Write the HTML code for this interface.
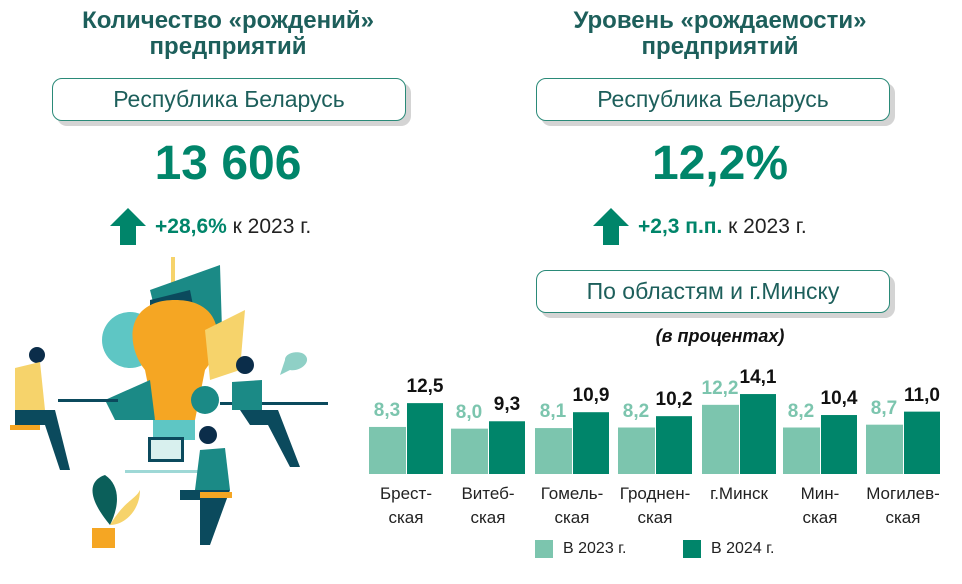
<!DOCTYPE html>
<html><head><meta charset="utf-8"><style>
body{margin:0;width:962px;height:584px;background:#fff;font-family:"Liberation Sans",sans-serif;position:relative;overflow:hidden}
.a{position:absolute;white-space:nowrap}
.t{color:#1d5f5b;font-weight:bold;font-size:24px;line-height:26px;text-align:center}
.box{position:absolute;border:1.5px solid #2a8a78;border-radius:10px;background:#fff;box-shadow:5px 5px 0 #d4d4d4;text-align:center;color:#1d5f5b;font-size:23px;line-height:40px}
.big{color:#00856a;font-weight:bold;font-size:48px;text-align:center}
.inc{font-size:21px;color:#222}
.inc b{color:#00856a}
.l{color:#7cc5ae;font-weight:bold;font-size:19px;text-align:center;width:40px}
.d{color:#111;font-weight:bold;font-size:19px;text-align:center;width:40px}
.cat{font-size:17px;color:#222;text-align:center;line-height:24px;width:84px}
</style></head><body>
<div class="a t" style="left:28px;top:8px;width:400px">Количество «рождений»<br>предприятий</div>
<div class="a t" style="left:520px;top:8px;width:400px">Уровень «рождаемости»<br>предприятий</div>
<div class="box" style="left:52px;top:78px;width:352px;height:41px">Республика Беларусь</div>
<div class="box" style="left:536px;top:78px;width:352px;height:41px">Республика Беларусь</div>
<div class="box" style="left:536px;top:270px;width:352px;height:41px">По областям и г.Минску</div>
<div class="a big" style="left:28px;top:136px;width:400px">13 606</div>
<div class="a big" style="left:520px;top:136px;width:400px">12,2%</div>
<svg class="a" style="left:0;top:0" width="962" height="584">
<polygon points="128,208 110,226 120,226 120,245 136,245 136,226 146,226" fill="#00856a"/>
<polygon points="611,208 593,226 603,226 603,245 619,245 619,226 629,226" fill="#00856a"/>
<line x1="173" y1="257" x2="173" y2="285" stroke="#f6d36b" stroke-width="4"/>
<path d="M150 290 L220 265 L222 330 L160 330Z" fill="#1b8a86"/>
<path d="M150 300 L190 290 L200 340 L150 330Z" fill="#0b4a5d"/>
<circle cx="130" cy="340" r="28" fill="#5ec6c4"/>
<path d="M175 300 C225 300 225 345 205 370 L195 420 L155 420 L145 370 C125 345 125 300 175 300Z" fill="#f5a623"/>
<rect x="153" y="420" width="42" height="20" fill="#5ec6c4"/>
<path d="M205 330 L245 310 L240 370 L210 380Z" fill="#f6d36b"/>
<circle cx="205" cy="400" r="14" fill="#1b8a86"/>
<path d="M105 400 L150 380 L155 420 L115 420Z" fill="#1b8a86"/>
<rect x="148" y="437" width="36" height="25" fill="#0b4a5d"/><rect x="151" y="440" width="30" height="19" fill="#d8f0ee"/>
<rect x="58" y="399" width="60" height="3" fill="#0b4a5d"/>
<rect x="220" y="402" width="108" height="3" fill="#0b4a5d"/>
<rect x="125" y="470" width="100" height="3" fill="#9ed8d6"/>
<circle cx="37" cy="355" r="8" fill="#0b2d4a"/>
<path d="M15 368 L40 362 L45 410 L15 410Z" fill="#f6d36b"/>
<path d="M15 410 L55 410 L70 470 L60 470 L45 425 L15 425Z" fill="#0b4a5d"/>
<rect x="10" y="425" width="30" height="5" fill="#f5a623"/>
<circle cx="245" cy="365" r="9" fill="#0b2d4a"/>
<path d="M232 382 L262 380 L262 410 L232 410Z" fill="#1b8a86"/>
<path d="M240 410 L278 410 L300 467 L290 467 L268 425 L250 425Z" fill="#0b4a5d"/>
<circle cx="208" cy="435" r="9" fill="#0b2d4a"/>
<path d="M200 450 L225 448 L230 490 L195 490Z" fill="#1b8a86"/>
<path d="M180 490 L230 490 L210 545 L200 545 L200 500 L180 500Z" fill="#0b4a5d"/>
<rect x="200" y="492" width="32" height="6" fill="#f5a623"/>
<path d="M110 525 C85 495 90 480 105 475 C120 485 120 505 110 525Z" fill="#0b5f5a"/>
<path d="M110 525 C125 500 135 500 140 490 C140 510 125 525 110 525Z" fill="#f6d36b"/>
<rect x="92" y="528" width="23" height="20" fill="#f5a623"/>
<path d="M285 360 C285 352 300 350 305 355 C312 362 300 372 290 370 L280 375Z" fill="#8fd0c6"/>
<g id="bars"></g>
<rect x="535" y="540" width="18" height="18" fill="#7cc5ae"/>
<rect x="683" y="540" width="18" height="18" fill="#00856a"/>
</svg>
<div class="a" style="left:520px;top:326px;width:400px;text-align:center;font-weight:bold;font-style:italic;font-size:18px;color:#111">(в процентах)</div>
<div class="a inc" style="left:155px;top:215px"><b>+28,6%</b> к 2023 г.</div>
<div class="a inc" style="left:638px;top:215px"><b>+2,3 п.п.</b> к 2023 г.</div>
<div class="a" style="left:563px;top:540px;font-size:16px;color:#222">В 2023 г.</div>
<div class="a" style="left:711px;top:540px;font-size:16px;color:#222">В 2024 г.</div>
<div id="c"></div>
<script>
var d=[["Брест-","ская",8.3,12.5,"8,3","12,5"],["Витеб-","ская",8.0,9.3,"8,0","9,3"],["Гомель-","ская",8.1,10.9,"8,1","10,9"],["Гроднен-","ская",8.2,10.2,"8,2","10,2"],["г.Минск","",12.2,14.1,"12,2","14,1"],["Мин-","ская",8.2,10.4,"8,2","10,4"],["Могилев-","ская",8.7,11.0,"8,7","11,0"]];
var xs=[369,451,535,618,702,783,866],h="",s="",k=5.67;
d.forEach(function(r,i){var x=xs[i],h1=r[2]*k,h2=r[3]*k;
s+='<rect x="'+x+'" y="'+(474-h1)+'" width="37" height="'+h1+'" fill="#7cc5ae"/><rect x="'+(x+38)+'" y="'+(474-h2)+'" width="36" height="'+h2+'" fill="#00856a"/>';
h+='<div class="a l" style="left:'+(x-2)+'px;top:'+(474-h1-27)+'px">'+r[4]+'</div><div class="a d" style="left:'+(x+36)+'px;top:'+(474-h2-27)+'px">'+r[5]+'</div>';
h+='<div class="a cat" style="left:'+(x-5)+'px;top:482px">'+r[0]+'<br>'+r[1]+'</div>';});
document.getElementById("bars").innerHTML=s;document.getElementById("c").innerHTML=h;
</script>
</body></html>
